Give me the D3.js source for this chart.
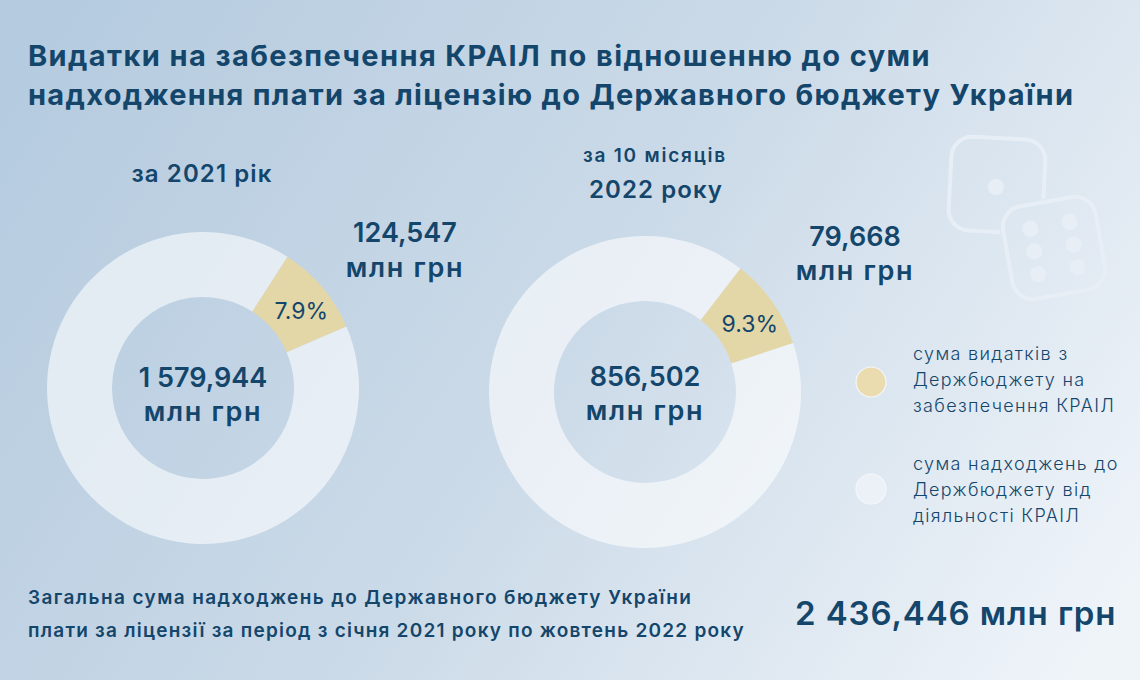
<!DOCTYPE html>
<html>
<head>
<meta charset="utf-8">
<script src="https://cdn.jsdelivr.net/npm/d3@7"></script>
<style>
 html, body { margin: 0; padding: 0; }
 svg { display: block; }
 text { font-family: Inter, sans-serif; fill: #14466b; }
</style>
</head>
<body>
<div id="d3-container"></div>
<script>
/** DATA */
const titleLines = [
 "Видатки на забезпечення КРАІЛ по відношенню до суми",
 "надходження плати за ліцензію до Державного бюджету України"
];
const categories = ["сума видатків", "сума надходжень"];
// share of the ring as it is drawn in the picture (the wedge is the same size in both)
const drawnShares2021 = [34, 326];
const drawnShares2022 = [34, 326];
const wedgeStart = [32.8, 37.7];
const percentLabels = ["7.9%", "9.3%"];
const expenseLabels = [["124,547", "млн грн"], ["79,668", "млн грн"]];
const incomeLabels = [["1 579,944", "млн грн"], ["856,502", "млн грн"]];
const periodLabels = [["за 2021 рік"], ["за 10 місяців", "2022 року"]];
const legendLabels = [
 ["сума видатків з", "Держбюджету на", "забезпечення КРАІЛ"],
 ["сума надходжень до", "Держбюджету від", "діяльності КРАІЛ"]
];
const footerLines = [
 "Загальна сума надходжень до Державного бюджету України",
 "плати за ліцензії за період з січня 2021 року по жовтень 2022 року"
];
const totalLabel = "2 436,446 млн грн";

/** CONSTANTS */
const width = 1140, height = 680;
const color = d3.scaleOrdinal(categories, ["#e3d6a7", "#ffffff"]);
const ringOpacity = d3.scaleOrdinal(categories, [1, 0.58]);
const legendColor = d3.scaleOrdinal(categories, ["#eadcaf", "#ecf1f7"]);

const svg = d3.select("#d3-container").append("svg")
 .attr("width", width)
 .attr("height", height);

const defs = svg.append("defs");
const grad = defs.append("linearGradient")
 .attr("id", "bg")
 .attr("gradientUnits", "userSpaceOnUse")
 .attr("x1", 60).attr("y1", 0)
 .attr("x2", 1080).attr("y2", 680);
grad.append("stop").attr("offset", 0).attr("stop-color", "#b5cbdf");
grad.append("stop").attr("offset", 0.5).attr("stop-color", "#cbdae8");
grad.append("stop").attr("offset", 1).attr("stop-color", "#eff4f9");

svg.append("rect").attr("width", width).attr("height", height).attr("fill", "url(#bg)");

// lines of text
function lines(arr, x, y, step, size, weight, anchor, spacing) {
 svg.append("g").selectAll("text")
  .data(arr)
  .join("text")
  .attr("x", x)
  .attr("y", (d, i) => y + i * step)
  .attr("font-size", size)
  .attr("font-weight", weight)
  .attr("text-anchor", anchor || "start")
  .attr("letter-spacing", spacing || 0)
  .text(d => d);
}

lines(titleLines, 28, 66, 39, 29, 700, "start", (d, i) => i ? 1.3 : 1.4);

/** DONUTS */
const centers = [[203, 388], [645, 392]];
const arc = d3.arc().innerRadius(91).outerRadius(156);
[drawnShares2021, drawnShares2022].forEach((shares, k) => {
 const start = wedgeStart[k] * Math.PI / 180;
 const pie = d3.pie().sort(null).startAngle(start).endAngle(start + 2 * Math.PI);
 const g = svg.append("g").attr("transform", `translate(${centers[k]})`);
 g.selectAll("path")
  .data(pie(shares))
  .join("path")
  .attr("fill", (d, i) => color(categories[i]))
  .attr("fill-opacity", (d, i) => ringOpacity(categories[i]))
  .attr("d", arc);
 const c = arc.centroid(pie(shares)[0]);
 g.append("text")
  .attr("x", c[0] + 4).attr("y", c[1] + 11)
  .attr("text-anchor", "middle")
  .attr("font-size", 23)
  .attr("font-weight", 400)
  .text(percentLabels[k]);
});

const unitSpacing = (d, i) => i ? 1.7 : 0;
lines(incomeLabels[0], 203, 387, 34, 27, 600, "middle", unitSpacing);
lines(incomeLabels[1], 645, 386, 34, 27, 600, "middle", unitSpacing);
lines(expenseLabels[0], 405, 242, 35, 27, 600, "middle", unitSpacing);
lines(expenseLabels[1], 855, 246, 34, 27, 600, "middle", unitSpacing);
lines(periodLabels[0], 202, 182, 0, 24, 600, "middle", 1.1);
lines(periodLabels[1].slice(0, 1), 655, 162, 0, 19, 600, "middle", 1.8);
lines(periodLabels[1].slice(1), 656, 198, 0, 24, 600, "middle", 1.1);

/** LEGEND */
categories.forEach((c, i) => {
 svg.append("circle")
  .attr("cx", 871)
  .attr("cy", [382, 489][i])
  .attr("r", 15)
  .attr("fill", legendColor(c))
  .attr("stroke", "#f4f7fb")
  .attr("stroke-width", 1.2);
 lines(legendLabels[i], 913, [360, 470][i], 26, 18, 300, "start", 1.33);
});

/** FOOTER */
lines(footerLines, 28, 604, 33, 19, 600, "start", (d, i) => i ? 1.23 : 1.4);
lines([totalLabel], 795, 625, 0, 33, 600, "start", 0.9);

/** DICE */
const dieColor = "#e7eef6";
const die2 = "translate(1054,248) rotate(-10)";
const mask = defs.append("mask").attr("id", "dieMask").attr("maskUnits", "userSpaceOnUse")
 .attr("x", 0).attr("y", 0).attr("width", width).attr("height", height);
mask.append("rect").attr("width", width).attr("height", height).attr("fill", "#fff");
mask.append("rect").attr("x", -50).attr("y", -50).attr("width", 100).attr("height", 100).attr("rx", 24)
 .attr("transform", die2).attr("fill", "#000");

svg.append("g").attr("mask", "url(#dieMask)")
 .append("rect").attr("x", -47).attr("y", -47).attr("width", 94).attr("height", 94).attr("rx", 21)
 .attr("transform", "translate(997,185) rotate(3)")
 .attr("fill", "none").attr("stroke", dieColor).attr("stroke-width", 4);
svg.append("circle").attr("cx", 996).attr("cy", 187).attr("r", 8).attr("fill", dieColor);

svg.append("rect").attr("x", -47).attr("y", -47).attr("width", 94).attr("height", 94).attr("rx", 21)
 .attr("transform", die2)
 .attr("fill", "none").attr("stroke", dieColor).attr("stroke-width", 4);
svg.append("g").attr("transform", die2).selectAll("circle")
 .data([[-20, -23], [20, -23], [-20, 0], [20, 0], [-20, 23], [20, 23]])
 .join("circle")
 .attr("cx", d => d[0]).attr("cy", d => d[1])
 .attr("r", 8)
 .attr("fill", dieColor);
</script>
</body>
</html>
